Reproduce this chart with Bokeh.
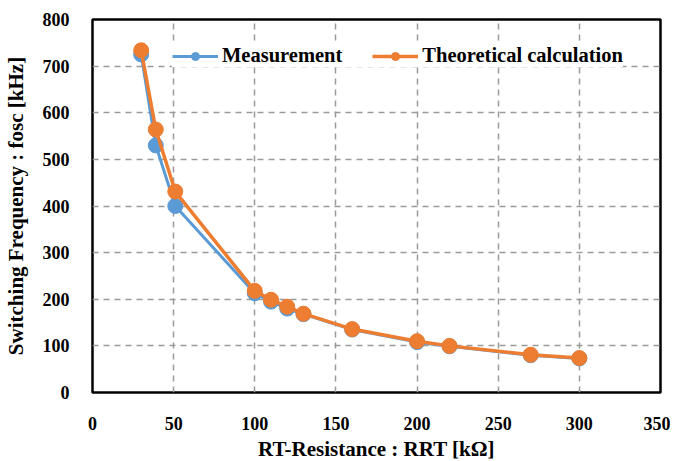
from bokeh.plotting import figure
from bokeh.models import Range1d, FixedTicker, Legend, LegendItem
from bokeh.embed import file_html
from bokeh.resources import INLINE

# Data
resistance = [30, 39, 51, 100, 110, 120, 130, 160, 200, 220, 270, 300]
measurement = [725, 530, 400, 213, 195, 180, 168, 135, 108, 99, 80, 73]
theoretical = [734, 564, 431, 218, 199, 184, 169, 136, 110, 100, 81, 74]
x_ticks = [0, 50, 100, 150, 200, 250, 300, 350]
y_ticks = [0, 100, 200, 300, 400, 500, 600, 700, 800]

BLUE = "#5B9BD5"
ORANGE = "#ED7D31"
FONT = "Liberation Serif"

p = figure(frame_width=568, frame_height=373, output_backend="svg", toolbar_location=None,
           x_range=Range1d(0, 350), y_range=Range1d(0, 800),
           min_border_left=82, min_border_right=10, min_border_top=19, min_border_bottom=60)

p.outline_line_color = "black"
p.outline_line_width = 2.5

for ax in (p.xaxis, p.yaxis):
    ax.axis_line_color = None
    ax.major_tick_line_color = None
    ax.minor_tick_line_color = None
    ax.major_label_text_font = FONT
    ax.major_label_text_font_style = "bold"
    ax.major_label_text_font_size = "18px"
    ax.major_label_text_color = "black"
    ax.axis_label_text_font = FONT
    ax.axis_label_text_font_style = "bold"
    ax.axis_label_text_font_size = "21px"
    ax.axis_label_text_color = "black"

p.xaxis.ticker = FixedTicker(ticks=x_ticks)
p.yaxis.ticker = FixedTicker(ticks=y_ticks)
p.xaxis.major_label_standoff = 18
p.yaxis.major_label_standoff = 17
p.xaxis.axis_label = "RT-Resistance : RRT [kΩ]"
p.yaxis.axis_label = "Switching Frequency : fosc [kHz]"
p.xaxis.axis_label_standoff = 4
p.yaxis.axis_label_standoff = 12

for g in (p.xgrid, p.ygrid):
    g.grid_line_color = "#9a9a9a"
    g.grid_line_width = 1.5
    g.grid_line_dash = "6 5"

l1 = p.line(resistance, measurement, line_color=BLUE, line_width=3)
s1 = p.scatter(resistance, measurement, size=15, fill_color=BLUE, line_color=BLUE)
l2 = p.line(resistance, theoretical, line_color=ORANGE, line_width=3.5)
s2 = p.scatter(resistance, theoretical, size=15, fill_color=ORANGE, line_color=ORANGE)

legend = Legend(items=[LegendItem(label="Measurement", renderers=[l1, s1]),
                       LegendItem(label="Theoretical calculation", renderers=[l2, s2])],
                orientation="horizontal", location=(80, 325),
                border_line_color=None, background_fill_color="white", background_fill_alpha=1.0,
                padding=2, margin=0, spacing=30, glyph_width=46, glyph_height=20,
                label_standoff=4,
                label_text_font=FONT, label_text_font_style="bold",
                label_text_font_size="20.5px", label_text_color="black")
p.add_layout(legend, "center")

open("out.html", "w").write(file_html(p, INLINE))
